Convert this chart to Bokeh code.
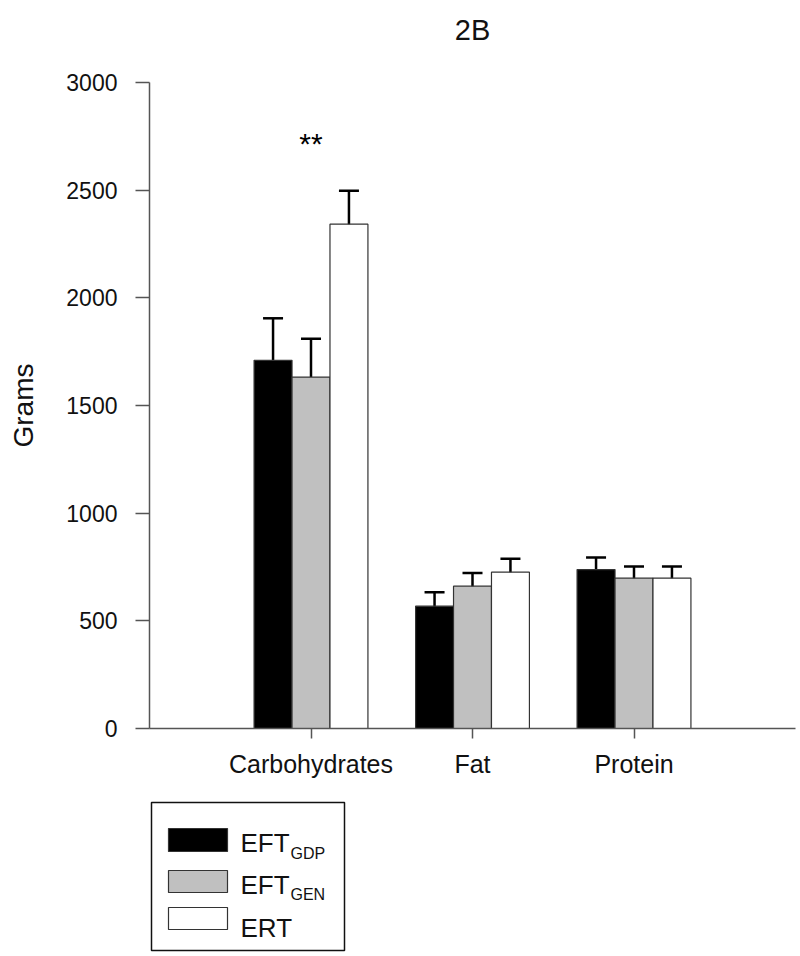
from bokeh.plotting import figure
from bokeh.models import Range1d, FixedTicker, Whisker, TeeHead, ColumnDataSource
from bokeh.transform import dodge
from bokeh.layouts import column
from bokeh.core.properties import value
from bokeh.embed import file_html
from bokeh.resources import INLINE

# ---- data ----
title_text = "2B"
categories = ["Carbohydrates", "Fat", "Protein"]
series_names = ["EFT", "EFT", "ERT"]
series_subs = ["GDP", "GEN", ""]
series_colors = ["#000000", "#c0c0c0", "#ffffff"]
eft_gdp = [1710, 568, 738]
eft_gdp_err = [195, 65, 56]
eft_gen = [1632, 661, 698]
eft_gen_err = [178, 61, 54]
ert = [2342, 726, 698]
ert_err = [155, 62, 54]
y_ticks = [0, 500, 1000, 1500, 2000, 2500, 3000]
sig_labels = ["**", "", ""]
sig_y = [2715, 0, 0]

FONT = "Liberation Sans"
TXT = "#111111"
AX = "#555555"
series = [(eft_gdp, eft_gdp_err), (eft_gen, eft_gen_err), (ert, ert_err)]
xs = [i + 1 for i in range(len(categories))]
bar_w = 0.235
offsets = [-bar_w, 0.0, bar_w]

W = 798
LB, RB = 149, 3
TITLE_H = 50
TOP = 82 - TITLE_H
FRAME = 646
MAIN_H = 785 - TITLE_H


def blank_panel(y0, h):
    f = figure(width=W, height=h, x_range=Range1d(LB, W - RB),
               y_range=Range1d(y0 + h, y0), output_backend="svg",
               toolbar_location=None, min_border=0, min_border_left=LB,
               min_border_right=RB, x_axis_type=None, y_axis_type=None)
    f.outline_line_color = None
    f.grid.visible = False
    return f


# title panel (coordinates = page pixels)
tp = blank_panel(0, TITLE_H)
tp.text(x=[(LB + W - RB) / 2], y=[29], text=[title_text], text_align="center",
        text_baseline="alphabetic", text_font=value(FONT), text_font_size="29px",
        text_color=TXT)

p = figure(width=W, height=MAIN_H, x_range=Range1d(0, len(categories) + 1),
           y_range=Range1d(0, 3000), output_backend="svg", toolbar_location=None,
           min_border_left=LB, min_border_right=RB, min_border_top=TOP,
           min_border_bottom=MAIN_H - TOP - FRAME)
p.outline_line_color = None
p.grid.visible = False

for (vals, errs), off, col in zip(series, offsets, series_colors):
    src = ColumnDataSource(dict(
        x=xs, top=vals,
        upper=[v + e for v, e in zip(vals, errs)],
        lower=[v - e for v, e in zip(vals, errs)]))
    p.vbar(x=dodge("x", off, range=p.x_range), top="top", bottom=0, width=bar_w,
           source=src, fill_color=col, line_color="#333333", line_width=1.2)
    w = Whisker(base=dodge("x", off, range=p.x_range), upper="upper", lower="lower",
                source=src, line_color="black", line_width=2.5,
                upper_head=TeeHead(size=20, line_width=2.5, line_color="black"),
                lower_head=TeeHead(size=20, line_width=2.5, line_color="black"))
    p.add_layout(w)

sig_src = ColumnDataSource(dict(x=xs, y=sig_y, t=sig_labels))
p.text(x="x", y="y", text="t", source=sig_src, text_align="center",
       text_baseline="middle", text_font=value(FONT), text_font_size="30px",
       text_color="black")

# y axis
ya = p.yaxis[0]
ya.ticker = FixedTicker(ticks=y_ticks)
ya.axis_label = "Grams"
ya.axis_label_text_font = FONT
ya.axis_label_text_font_size = "28px"
ya.axis_label_text_font_style = "normal"
ya.axis_label_text_color = TXT
ya.axis_label_standoff = 24
ya.major_label_text_font = FONT
ya.major_label_text_font_size = "23px"
ya.major_label_text_color = TXT
ya.major_label_standoff = 18
ya.major_tick_out = 14
ya.major_tick_in = 0
ya.minor_tick_out = 0
ya.minor_tick_in = 0
ya.axis_line_color = AX
ya.axis_line_width = 1.5
ya.major_tick_line_color = AX
ya.major_tick_line_width = 1.5

# x axis
xa = p.xaxis[0]
xa.ticker = FixedTicker(ticks=xs)
xa.major_label_overrides = {x: c for x, c in zip(xs, categories)}
xa.major_label_text_font = FONT
xa.major_label_text_font_size = "25px"
xa.major_label_text_color = TXT
xa.major_label_standoff = 11
xa.major_tick_out = 10
xa.major_tick_in = 0
xa.minor_tick_out = 0
xa.minor_tick_in = 0
xa.axis_line_color = AX
xa.axis_line_width = 1.5
xa.major_tick_line_color = AX
xa.major_tick_line_width = 1.5

# legend panel (coordinates = page pixels)
LEG_Y0 = TITLE_H + MAIN_H
LEG_H = 170
leg = blank_panel(LEG_Y0, LEG_H)
leg.quad(left=[151], right=[344], top=[802], bottom=[950], fill_color=None,
         line_color="#111111", line_width=1.5)
sw_top = [828, 870, 907]
sw_bot = [851, 892, 929]
leg.quad(left=[168] * 3, right=[227] * 3, top=sw_top, bottom=sw_bot,
         fill_color=series_colors, line_color="#333333", line_width=1.2)
leg.text(x=[240] * 3, y=[842, 884, 927], text=series_names, text_font=value(FONT),
         text_font_size="26px", text_baseline="alphabetic", text_color=TXT)
leg.text(x=[290] * 3, y=[853, 894, 900], text=series_subs, text_font=value(FONT),
         text_font_size="16px", text_baseline="alphabetic", text_color=TXT)

layout = column(tp, p, leg, spacing=0)
open("out.html", "w").write(file_html(layout, INLINE))
